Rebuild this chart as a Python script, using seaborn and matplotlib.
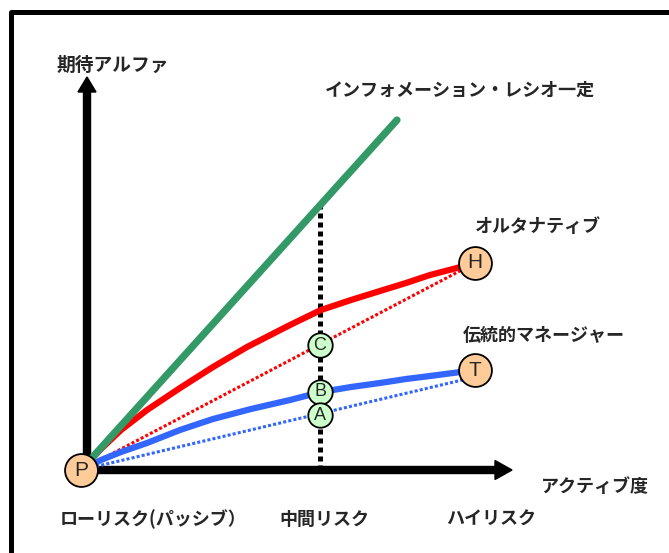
import numpy as np
import pandas as pd
import matplotlib
matplotlib.use("Agg")
import matplotlib.pyplot as plt
from matplotlib.patches import FancyArrow
from matplotlib.lines import Line2D
import seaborn as sns

# données (origine = portefeuille passif P)
risk_mid = 239
risk_high = 394

green_x = [0, 316]
green_y = [0, 350]

red_curve_x = [0, 20, 40, 66, 99, 132, 166, 209, 240, 270, 299, 325, 349, 372, 394]
red_curve_y = [0, 21, 40, 60, 82, 103, 123, 145, 160, 170, 179, 187, 195, 201, 207]

blue_curve_x = [0, 20, 40, 66, 99, 132, 170, 209, 240, 270, 299, 325, 349, 372, 394]
blue_curve_y = [0, 10, 18, 27, 40, 51, 61, 70, 78, 83, 87, 91, 94, 97, 100]

red_line_y = [0, 207]
blue_line_y = [0, 93]

mid_line_top = 265

big_points = ["P", "H", "T"]
big_x = [0, risk_high, risk_high]
big_y = [0, 207, 100]

small_points = ["C", "B", "A"]
small_x = [risk_mid, risk_mid, risk_mid]
small_y = [125, 78, 55]

bottom_labels = ["ローリスク(パッシブ）", "中間リスク", "ハイリスク"]
bottom_labels_x = [-21, 198, 365]

sns.set_theme(style="white")
plt.rcParams['font.family'] = ['Noto Sans CJK JP', 'DejaVu Sans']

fig = plt.figure(figsize=(6.69, 5.53), dpi=100)
ax = fig.add_axes([0, 0, 1, 1])
ax.set_xlim(-81, 588)
ax.set_ylim(-83, 470)
ax.axis('off')

# cadre (gauche et haut seulement)
fig.add_artist(Line2D([11 / 669, 11 / 669, 1], [0, 1 - 12 / 553, 1 - 12 / 553],
                      transform=fig.transFigure, color='black', lw=3.6))

# axes avec flèches
ax.add_patch(FancyArrow(6, 0, 425, 0, width=7, head_width=19, head_length=17,
                        length_includes_head=True, color='black', zorder=2))
ax.add_patch(FancyArrow(6, 0, 0, 393, width=7, head_width=18, head_length=15,
                        length_includes_head=True, color='black', zorder=2))

# ligne verticale pointillée (risque intermédiaire)
ax.plot([risk_mid, risk_mid], [0, mid_line_top], color='black', lw=3.6,
        linestyle=(0, (1, 0.8)), zorder=3)

# droites en pointillé
sns.lineplot(x=[0, risk_high], y=red_line_y, ax=ax, color='#FF0000', linewidth=2.2,
             linestyle=(0, (1, 0.7)), sort=False, estimator=None, zorder=4)
sns.lineplot(x=[0, risk_high], y=blue_line_y, ax=ax, color='#3366FF', linewidth=2.2,
             linestyle=(0, (1, 0.7)), sort=False, estimator=None, zorder=4)

# courbes
sns.lineplot(x=red_curve_x, y=red_curve_y, ax=ax, color='#FF0000', linewidth=4.5,
             sort=False, estimator=None, zorder=5)
sns.lineplot(x=blue_curve_x, y=blue_curve_y, ax=ax, color='#3366FF', linewidth=4.5,
             sort=False, estimator=None, zorder=5)
sns.lineplot(x=green_x, y=green_y, ax=ax, color='#339966', linewidth=5.2,
             sort=False, estimator=None, zorder=6, solid_capstyle='round')

# points
ax.scatter(big_x, big_y, s=560, color='#FFCC99', edgecolor='black', linewidth=1.3, zorder=8)
ax.scatter(small_x, small_y, s=310, color='#CCFFCC', edgecolor='black', linewidth=1.3, zorder=8)
for lab, x, y in zip(big_points, big_x, big_y):
    ax.text(x, y, lab, ha='center', va='center', fontsize=15,
            family='Liberation Sans', zorder=9)
for lab, x, y in zip(small_points, small_x, small_y):
    ax.text(x, y, lab, ha='center', va='center', fontsize=13,
            family='Liberation Sans', zorder=9)

# textes
kw = dict(fontsize=13, fontweight='bold', va='center', ha='left')
ax.text(-24, 405, "期待アルファ", **dict(kw, fontsize=13.5))
ax.text(244, 380, "インフォメーション・レシオ一定", **kw)
ax.text(394, 244, "オルタナティブ", **kw)
ax.text(382, 135, "伝統的マネージャー", **kw)
ax.text(460, -17, "アクティブ度", **kw)
for lab, x in zip(bottom_labels, bottom_labels_x):
    ax.text(x, -49, lab, **kw)

plt.savefig("out.png", dpi=100)
